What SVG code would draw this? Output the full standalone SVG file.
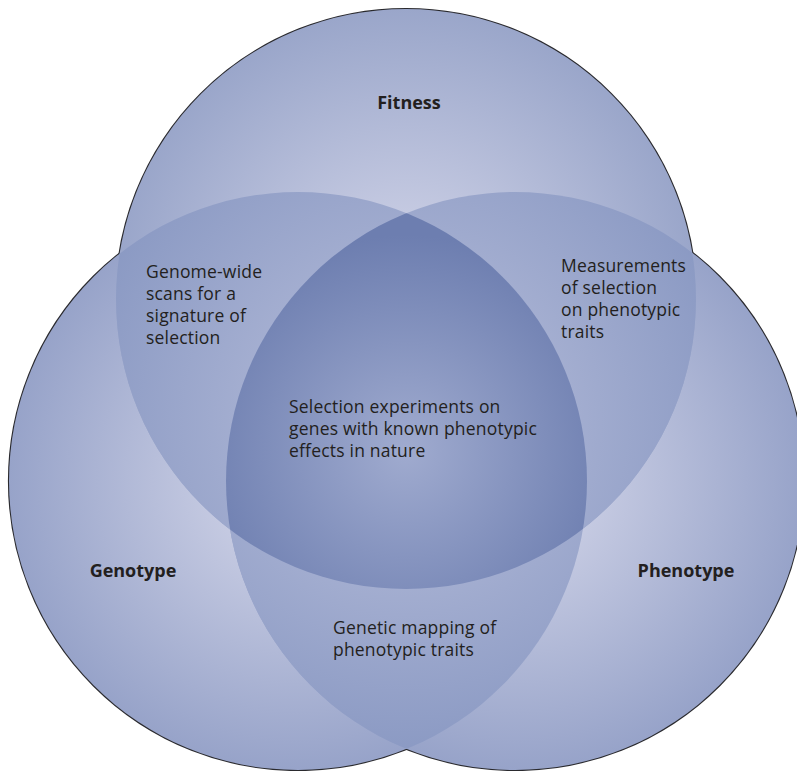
<svg xmlns="http://www.w3.org/2000/svg" width="797" height="771" viewBox="0 0 797 771">
  <style>
    .lbl { font-family: "Open Sans", "Liberation Sans", sans-serif; font-size: 17.5px; letter-spacing: 0.2px; fill: #231f20; }
    .ttl { font-family: "Open Sans", "Liberation Sans", sans-serif; font-size: 18px; font-weight: bold; fill: #231f20; text-anchor: middle; }
    .edge { fill: none; stroke: #2a2a2e; stroke-width: 2.2; }
  </style>
  <defs>
    <radialGradient id="gTop" gradientUnits="userSpaceOnUse" cx="406" cy="299" r="290">
      <stop offset="0" stop-color="#cdd2e8"/>
      <stop offset="0.3" stop-color="#c4c9e1"/>
      <stop offset="1" stop-color="#9aa6ca"/>
    </radialGradient>
    <radialGradient id="gLeft" gradientUnits="userSpaceOnUse" cx="298" cy="481" r="289">
      <stop offset="0" stop-color="#cdd2e8"/>
      <stop offset="0.3" stop-color="#c4c9e1"/>
      <stop offset="1" stop-color="#97a3c9"/>
    </radialGradient>
    <radialGradient id="gRight" gradientUnits="userSpaceOnUse" cx="515" cy="481" r="289">
      <stop offset="0" stop-color="#cdd2e8"/>
      <stop offset="0.3" stop-color="#c4c9e1"/>
      <stop offset="1" stop-color="#97a3c9"/>
    </radialGradient>
    <radialGradient id="gDouble" gradientUnits="userSpaceOnUse" cx="406" cy="420" r="340">
      <stop offset="0" stop-color="#aeb7d6"/>
      <stop offset="0.45" stop-color="#a5afd1"/>
      <stop offset="1" stop-color="#8a99c3"/>
    </radialGradient>
    <radialGradient id="gTriple" gradientUnits="userSpaceOnUse" cx="406" cy="450" r="215">
      <stop offset="0" stop-color="#a0abcf"/>
      <stop offset="1" stop-color="#6d7eb0"/>
    </radialGradient>
    <clipPath id="cTop"><circle cx="406" cy="299" r="290"/></clipPath>
    <clipPath id="cLeft"><circle cx="298" cy="481" r="289"/></clipPath>
    <clipPath id="cRight"><circle cx="515" cy="481" r="289"/></clipPath>
  </defs>

  <g id="venn-shapes">
    <g id="outline">
      <circle class="edge" cx="406" cy="299" r="290"/>
      <circle class="edge" cx="298" cy="481" r="289"/>
      <circle class="edge" cx="515" cy="481" r="289"/>
    </g>
    <g id="single-fills">
      <circle cx="298" cy="481" r="289" fill="url(#gLeft)"/>
      <circle cx="515" cy="481" r="289" fill="url(#gRight)"/>
      <circle cx="406" cy="299" r="290" fill="url(#gTop)"/>
    </g>
    <g id="double-fills">
      <circle cx="406" cy="299" r="290" fill="url(#gDouble)" clip-path="url(#cLeft)"/>
      <circle cx="406" cy="299" r="290" fill="url(#gDouble)" clip-path="url(#cRight)"/>
      <circle cx="298" cy="481" r="289" fill="url(#gDouble)" clip-path="url(#cRight)"/>
    </g>
    <g id="triple-fill" clip-path="url(#cLeft)">
      <circle cx="406" cy="299" r="290" fill="url(#gTriple)" clip-path="url(#cRight)"/>
    </g>
  </g>

  <g id="fitness"><text class="ttl" x="409" y="109">Fitness</text></g>
  <g id="genotype"><text class="ttl" x="133" y="577">Genotype</text></g>
  <g id="phenotype"><text class="ttl" x="686" y="577">Phenotype</text></g>

  <g id="genotype-fitness">
    <text class="lbl" x="146" y="278">Genome-wide</text>
    <text class="lbl" x="146" y="300">scans for a</text>
    <text class="lbl" x="146" y="322">signature of</text>
    <text class="lbl" x="146" y="344">selection</text>
  </g>
  <g id="fitness-phenotype">
    <text class="lbl" x="561" y="272">Measurements</text>
    <text class="lbl" x="561" y="294">of selection</text>
    <text class="lbl" x="561" y="316">on phenotypic</text>
    <text class="lbl" x="561" y="338">traits</text>
  </g>
  <g id="all-three">
    <text class="lbl" x="289" y="413">Selection experiments on</text>
    <text class="lbl" x="289" y="435">genes with known phenotypic</text>
    <text class="lbl" x="289" y="457">effects in nature</text>
  </g>
  <g id="genotype-phenotype">
    <text class="lbl" x="333" y="634">Genetic mapping of</text>
    <text class="lbl" x="333" y="656">phenotypic traits</text>
  </g>
</svg>
